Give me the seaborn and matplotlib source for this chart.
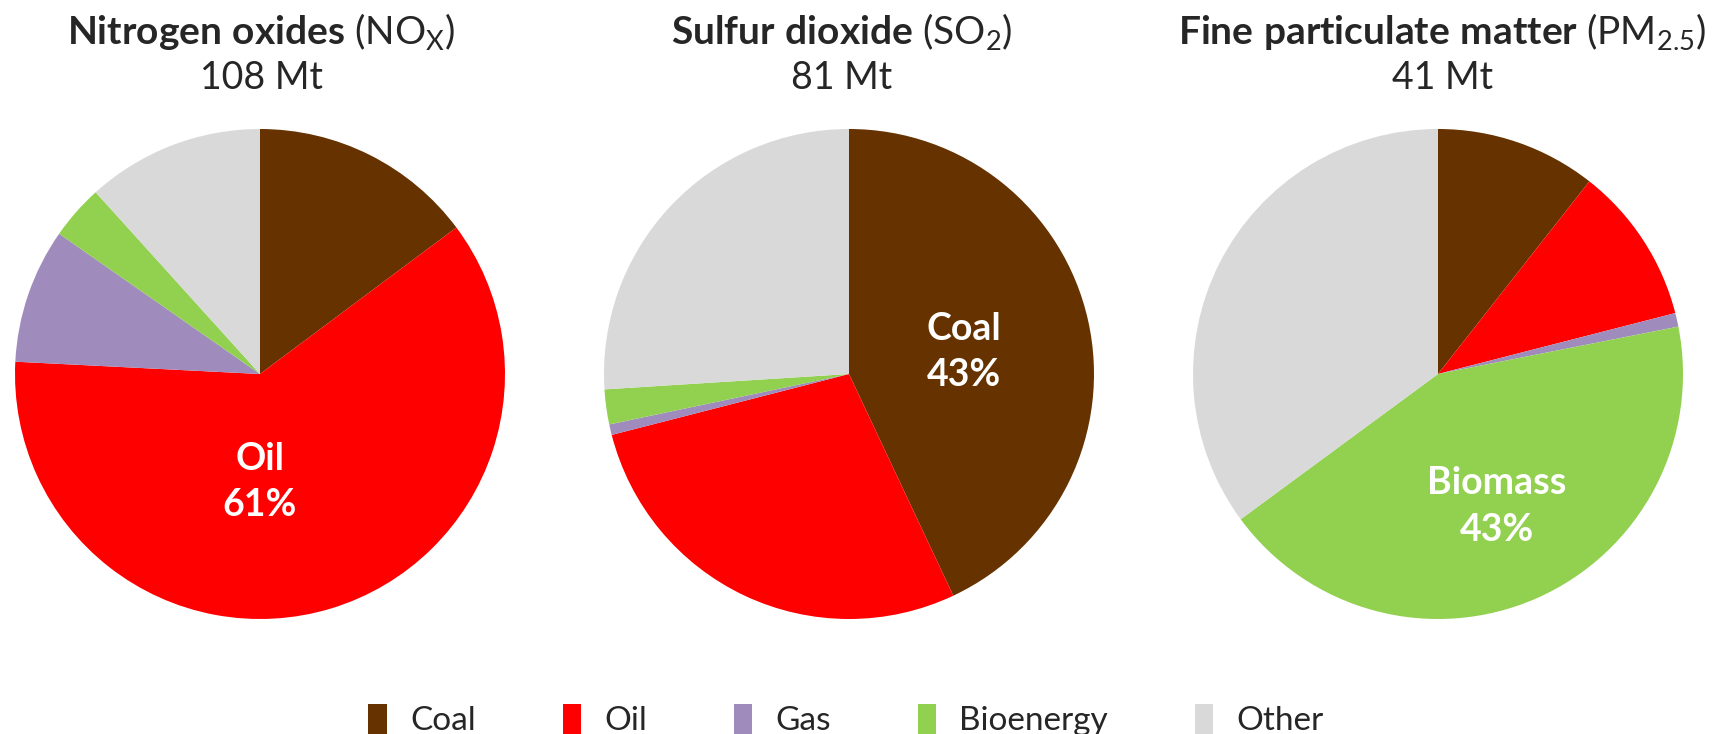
import matplotlib
matplotlib.use("Agg")
import matplotlib.pyplot as plt
import seaborn as sns
from matplotlib.patches import Patch

sns.set_theme(style="white")
plt.rcParams['font.family'] = ['Lato', 'DejaVu Sans']
plt.rcParams['mathtext.fontset'] = 'custom'
plt.rcParams['mathtext.rm'] = 'Lato'
plt.rcParams['mathtext.it'] = 'Lato'
plt.rcParams['mathtext.bf'] = 'Lato:bold'

categories = ["Coal", "Oil", "Gas", "Bioenergy", "Other"]
colors = ["#663300", "#FF0000", "#A08CBC", "#92D050", "#D9D9D9"]

nox = [14.8, 61.0, 8.9, 3.6, 11.7]
so2 = [43.0, 28.0, 0.7, 2.3, 26.0]
pm25 = [10.6, 10.4, 0.9, 43.0, 35.1]

titles = [r"$\mathbf{Nitrogen\ oxides}$ (NO$_\mathrm{X}$)",
          r"$\mathbf{Sulfur\ dioxide}$ (SO$_\mathrm{2}$)",
          r"$\mathbf{Fine\ particulate\ matter}$ (PM$_\mathrm{2.5}$)"]
totals = ["108 Mt", "81 Mt", "41 Mt"]
highlight_idx = [1, 0, 3]
highlight_names = ["Oil", "Coal", "Biomass"]
label_pos = [(0.0, -0.44), (0.47, 0.09), (0.24, -0.54)]

W, H = 1723, 734
fig = plt.figure(figsize=(W / 100, H / 100), dpi=100)

centers = [(260, 374), (849, 374), (1438, 374)]
title_x = [261, 842, 1442]
R = 245

for i, vals in enumerate([nox, so2, pm25]):
    cx, cy = centers[i]
    ax = fig.add_axes([(cx - R) / W, (H - cy - R) / H, 2 * R / W, 2 * R / H])
    wedges, _ = ax.pie(vals, colors=colors, startangle=90, counterclock=False,
                       wedgeprops=dict(linewidth=0))
    ax.set_xlim(-1, 1)
    ax.set_ylim(-1, 1)
    ax.set_aspect('equal')
    ax.axis('off')
    lx, ly = label_pos[i]
    ax.text(lx, ly, f"{highlight_names[i]}\n{vals[highlight_idx[i]]:.0f}%",
            ha='center', va='center', color='white', fontsize=27,
            fontweight='bold', linespacing=1.45)
    fig.text(title_x[i] / W, 1 - 32 / H, titles[i], ha='center', va='center',
             fontsize=28)
    fig.text(title_x[i] / W, 1 - 78 / H, totals[i], ha='center', va='center',
             fontsize=27)

handles = [Patch(facecolor=c, edgecolor='none') for c in colors]
fig.legend(handles, categories, loc='center', bbox_to_anchor=(0.491, 1 - 720 / H),
           ncol=5, frameon=False, fontsize=24, handlelength=0.55, handleheight=1.0,
           columnspacing=2.6, handletextpad=0.7)

fig.savefig("out.png", dpi=100)
